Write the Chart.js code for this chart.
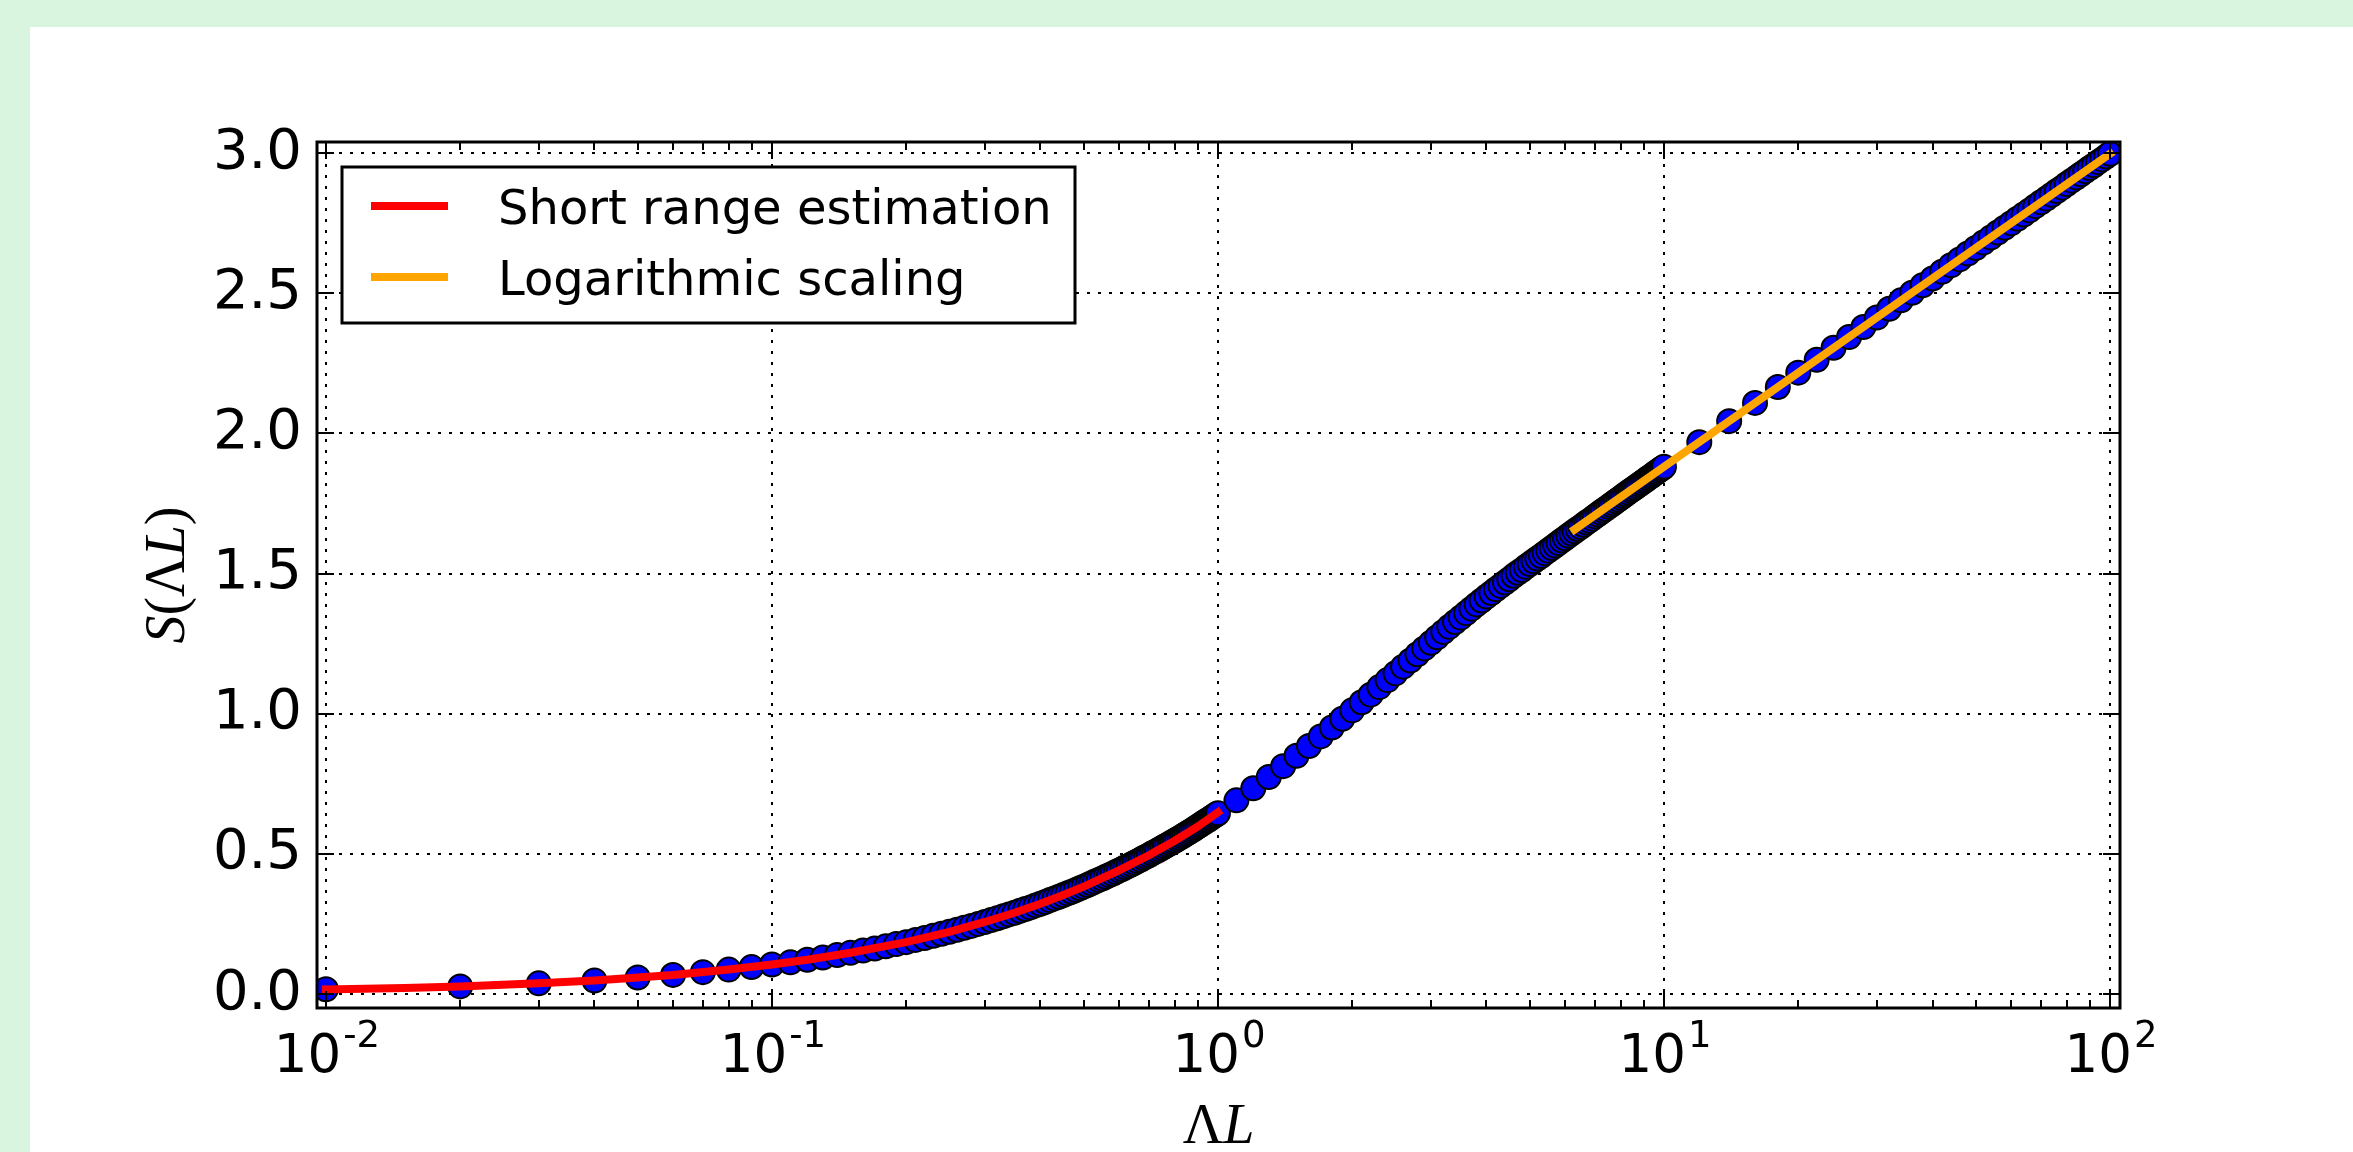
<!DOCTYPE html>
<html><head><meta charset="utf-8">
<script src="https://cdn.jsdelivr.net/npm/chart.js@4.4.1/dist/chart.umd.min.js"></script>
<style>html,body{margin:0;padding:0;background:#d9f5df;overflow:hidden}canvas{display:block}</style>
</head><body><canvas id="c" width="2353" height="1152"></canvas>
<script>
// ---------------- data ----------------
const xShort = [0.01,0.02,0.03,0.04,0.05,0.06,0.07,0.08,0.09,0.10,
0.11,0.12,0.13,0.14,0.15,0.16,0.17,0.18,0.19,0.20,
0.21,0.22,0.23,0.24,0.25,0.26,0.27,0.28,0.29,0.30,
0.31,0.32,0.33,0.34,0.35,0.36,0.37,0.38,0.39,0.40,
0.41,0.42,0.43,0.44,0.45,0.46,0.47,0.48,0.49,0.50,
0.51,0.52,0.53,0.54,0.55,0.56,0.57,0.58,0.59,0.60,
0.61,0.62,0.63,0.64,0.65,0.66,0.67,0.68,0.69,0.70,
0.71,0.72,0.73,0.74,0.75,0.76,0.77,0.78,0.79,0.80,
0.81,0.82,0.83,0.84,0.85,0.86,0.87,0.88,0.89,0.90,
0.91,0.92,0.93,0.94,0.95,0.96,0.97,0.98,0.99,1.00];
const sShort = [0.017,0.027,0.038,0.048,0.059,0.068,0.078,0.087,0.096,0.105,
0.113,0.122,0.130,0.139,0.147,0.155,0.162,0.170,0.178,0.185,
0.193,0.200,0.208,0.215,0.222,0.229,0.236,0.243,0.250,0.257,
0.264,0.270,0.277,0.284,0.290,0.297,0.303,0.309,0.316,0.322,
0.328,0.335,0.341,0.347,0.353,0.359,0.365,0.371,0.377,0.383,
0.389,0.395,0.401,0.407,0.412,0.418,0.424,0.429,0.435,0.441,
0.446,0.452,0.457,0.463,0.468,0.474,0.479,0.485,0.490,0.495,
0.501,0.506,0.511,0.516,0.522,0.527,0.532,0.537,0.542,0.547,
0.552,0.557,0.562,0.567,0.572,0.577,0.582,0.587,0.592,0.597,
0.602,0.607,0.612,0.617,0.621,0.626,0.631,0.636,0.640,0.645];
const xMid = [1.1,1.2,1.3,1.4,1.5,1.6,1.7,1.8,1.9,2.0,
2.1,2.2,2.3,2.4,2.5,2.6,2.7,2.8,2.9,3.0,
3.1,3.2,3.3,3.4,3.5,3.6,3.7,3.8,3.9,4.0,
4.1,4.2,4.3,4.4,4.5,4.6,4.7,4.8,4.9,5.0,
5.1,5.2,5.3,5.4,5.5,5.6,5.7,5.8,5.9,6.0,
6.1,6.2,6.3,6.4,6.5,6.6,6.7,6.8,6.9,7.0,
7.1,7.2,7.3,7.4,7.5,7.6,7.7,7.8,7.9,8.0,
8.1,8.2,8.3,8.4,8.5,8.6,8.7,8.8,8.9,9.0,
9.1,9.2,9.3,9.4,9.5,9.6,9.7,9.8,9.9,10.0];
const sMid = [0.691,0.734,0.774,0.813,0.850,0.885,0.919,0.951,0.982,1.012,
1.041,1.068,1.095,1.120,1.144,1.168,1.190,1.212,1.233,1.253,
1.273,1.292,1.310,1.327,1.343,1.359,1.375,1.390,1.404,1.418,
1.431,1.444,1.456,1.468,1.480,1.492,1.503,1.513,1.524,1.534,
1.544,1.554,1.563,1.573,1.582,1.591,1.600,1.609,1.618,1.626,
1.635,1.643,1.651,1.659,1.666,1.674,1.682,1.689,1.696,1.704,
1.711,1.718,1.725,1.731,1.738,1.745,1.751,1.758,1.764,1.770,
1.777,1.783,1.789,1.795,1.801,1.806,1.812,1.818,1.823,1.829,
1.834,1.840,1.845,1.850,1.856,1.861,1.866,1.871,1.876,1.881];
const xLong = [12,14,16,18,20,22,24,26,28,30,32,34,36,38,40,42,44,46,48,50,
52,54,56,58,60,62,64,66,68,70,72,74,76,78,80,82,84,86,88,90,92,94,96,98,100];
const sLong = [1.969,2.044,2.109,2.166,2.217,2.263,2.306,2.344,2.380,2.414,
2.445,2.475,2.502,2.529,2.553,2.577,2.600,2.621,2.642,2.662,
2.681,2.699,2.717,2.734,2.750,2.766,2.781,2.796,2.811,2.825,
2.838,2.852,2.865,2.877,2.890,2.902,2.913,2.925,2.936,2.947,
2.957,2.968,2.978,2.988,2.998];

const shortRangeX = [0.01,0.015,0.02,0.03,0.04,0.05,0.06,0.08,0.1,0.12,0.15,0.2,0.25,0.3,0.35,0.4,0.45,0.5,0.6,0.7,0.8,0.9,1.0];
const shortRangeS = [0.016,0.021,0.027,0.038,0.048,0.059,0.068,0.087,0.105,0.122,0.147,0.185,0.222,0.257,0.290,0.322,0.353,0.383,0.441,0.495,0.547,0.597,0.648];
const logScalingX = [6.3,10,20,50,100];
const logScalingS = [1.657,1.881,2.217,2.662,2.998];

const seriesLabels = ['Short range estimation','Logarithmic scaling'];
const xTickValues = [0.01,0.1,1,10,100];
const xTickBase = '10';
const xTickExponents = ['-2','-1','0','1','2'];
const yTickValues = [0,0.5,1,1.5,2,2.5,3];
const xTitleParts = [{t:'\u039B',it:false},{t:'L',it:true}];
const yTitleParts = [{t:'S',it:true},{t:'(',it:false},{t:'\u039B',it:false},{t:'L',it:true},{t:')',it:false}];

// ---------------- drawing ----------------
const W = 2353, H = 1152;
function pts(xs, ys){ return xs.map((x,i)=>({x:x, y:ys[i]})); }
const dataPts = pts(xShort.concat(xMid, xLong), sShort.concat(sMid, sLong));

function drawMixed(ctx, parts, cx, baseline, size){
  const fonts = parts.map(p => (p.it ? 'italic ' : '') + size + 'px "Liberation Serif"');
  const widths = parts.map((p,i)=>{ ctx.font = fonts[i]; return ctx.measureText(p.t).width; });
  const total = widths.reduce((a,b)=>a+b, 0);
  let x = cx - total/2;
  ctx.textAlign = 'left'; ctx.textBaseline = 'alphabetic';
  parts.forEach((p,i)=>{ ctx.font = fonts[i]; ctx.fillText(p.t, x, baseline); x += widths[i]; });
}

const decor = {
  id: 'decor',
  beforeDraw(chart){
    const ctx = chart.ctx;
    ctx.save();
    ctx.fillStyle = '#d9f5df'; ctx.fillRect(0,0,W,H);
    ctx.fillStyle = '#ffffff'; ctx.fillRect(30,27,W-30,H-27);
    ctx.restore();
  },
  afterDatasetsDraw(chart){
    const ctx = chart.ctx, a = chart.chartArea, xs = chart.scales.x, ys = chart.scales.y;
    ctx.save();
    ctx.strokeStyle = '#000'; ctx.lineWidth = 2; ctx.setLineDash([]);
    const seg = (x1,y1,x2,y2)=>{ ctx.beginPath(); ctx.moveTo(x1,y1); ctx.lineTo(x2,y2); ctx.stroke(); };
    // x ticks (major + minor), inward, top and bottom
    xTickValues.forEach(v=>{
      const px = Math.round(xs.getPixelForValue(v));
      seg(px, a.bottom, px, a.bottom-17); seg(px, a.top, px, a.top+17);
    });
    for (let d=0; d<xTickValues.length-1; d++){
      for (let m=2; m<=9; m++){
        const px = Math.round(xs.getPixelForValue(xTickValues[d]*m));
        seg(px, a.bottom, px, a.bottom-8); seg(px, a.top, px, a.top+8);
      }
    }
    // y ticks inward, left and right
    yTickValues.forEach(v=>{
      const py = Math.round(ys.getPixelForValue(v));
      seg(a.left, py, a.left+17, py); seg(a.right, py, a.right-17, py);
    });
    // frame
    ctx.lineWidth = 3;
    ctx.strokeRect(a.left, a.top, a.right-a.left, a.bottom-a.top);

    // legend
    const lx0 = 342, ly0 = 167, lx1 = 1075, ly1 = 323;
    ctx.fillStyle = '#fff'; ctx.fillRect(lx0, ly0, lx1-lx0, ly1-ly0);
    ctx.lineWidth = 3; ctx.strokeStyle = '#000'; ctx.strokeRect(lx0, ly0, lx1-lx0, ly1-ly0);
    const legendColors = [chart.data.datasets[0].borderColor, chart.data.datasets[1].borderColor];
    const rowY = [206, 277];
    seriesLabels.forEach((lab,i)=>{
      ctx.strokeStyle = legendColors[i]; ctx.lineWidth = 8; ctx.lineCap = 'butt';
      seg(371, rowY[i], 448, rowY[i]);
      ctx.fillStyle = '#000'; ctx.font = '48px "DejaVu Sans"';
      ctx.textAlign = 'left'; ctx.textBaseline = 'alphabetic';
      ctx.fillText(lab, 498, rowY[i]+17.5);
    });

    // x tick labels 10^n
    ctx.fillStyle = '#000';
    xTickValues.forEach((v,i)=>{
      const px = xs.getPixelForValue(v);
      ctx.font = '53px "DejaVu Sans"';
      const wb = ctx.measureText(xTickBase).width;
      ctx.font = '37px "DejaVu Sans"';
      const we = ctx.measureText(xTickExponents[i]).width;
      const x0 = px - (wb+we)/2;
      ctx.textAlign = 'left'; ctx.textBaseline = 'alphabetic';
      ctx.font = '53px "DejaVu Sans"'; ctx.fillText(xTickBase, x0, 1072);
      ctx.font = '37px "DejaVu Sans"'; ctx.fillText(xTickExponents[i], x0+wb+2, 1047);
    });

    // axis titles
    drawMixed(ctx, xTitleParts, (a.left+a.right)/2, 1143, 56);
    ctx.save();
    ctx.translate(184, (a.top+a.bottom)/2);
    ctx.rotate(-Math.PI/2);
    drawMixed(ctx, yTitleParts, 0, 0, 56);
    ctx.restore();
    ctx.restore();
  }
};

new Chart(document.getElementById('c'), {
  type: 'scatter',
  data: {
    datasets: [
      { label: seriesLabels[0], data: pts(shortRangeX, shortRangeS), showLine: true,
        borderColor: '#ff0000', backgroundColor: '#ff0000', borderWidth: 8, pointRadius: 0,
        borderCapStyle: 'square', tension: 0, order: 1, clip: 0 },
      { label: seriesLabels[1], data: pts(logScalingX, logScalingS), showLine: true,
        borderColor: '#ffa500', backgroundColor: '#ffa500', borderWidth: 8, pointRadius: 0,
        borderCapStyle: 'square', tension: 0, order: 1, clip: 0 },
      { label: 'data', data: dataPts, showLine: false,
        pointRadius: 12, pointBackgroundColor: '#0000ff', pointBorderColor: '#000000',
        pointBorderWidth: 2, order: 3, clip: 0 }
    ]
  },
  options: {
    responsive: false, devicePixelRatio: 1, animation: false,
    layout: { padding: { left: 0, top: 142, right: 233, bottom: 0 } },
    plugins: { legend: { display: false }, tooltip: { enabled: false } },
    scales: {
      x: {
        type: 'logarithmic', min: 0.00955, max: 105.3,
        afterBuildTicks: s => { s.ticks = xTickValues.map(v=>({value:v})); },
        afterFit: s => { s.height = 144; },
        ticks: { display: false },
        grid: { color: '#000', lineWidth: 2, drawTicks: false },
        border: { display: false, dash: [3,8] }
      },
      y: {
        type: 'linear', min: -0.05, max: 3.04,
        afterBuildTicks: s => { s.ticks = yTickValues.map(v=>({value:v})); },
        afterFit: s => { s.width = 317; },
        ticks: { callback: v => Number(v).toFixed(1), color: '#000', padding: 15,
                 font: { family: 'DejaVu Sans', size: 56 } },
        grid: { color: '#000', lineWidth: 2, drawTicks: false },
        border: { display: false, dash: [3,8] }
      }
    }
  },
  plugins: [decor]
});
</script>
</body></html>
